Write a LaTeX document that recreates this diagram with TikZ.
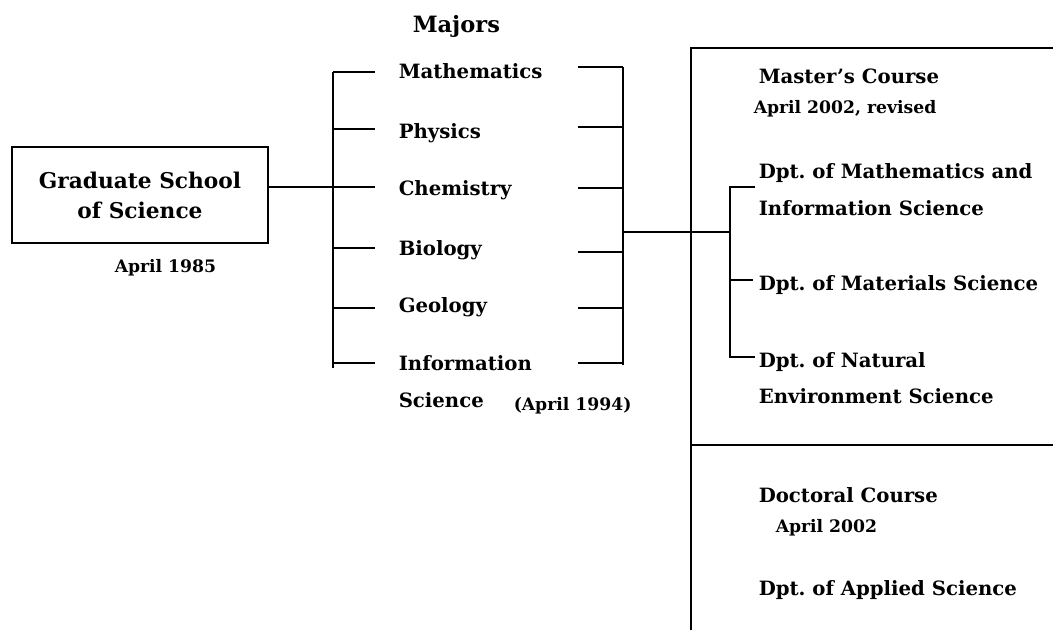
\documentclass[tikz,border=0pt]{standalone}
\usepackage{fontspec}
\setmainfont{DejaVu Serif}
\frenchspacing
\begin{document}
\begin{tikzpicture}[x=1pt,y=-1pt,line width=1.5pt,
  lbl/.style={anchor=base west,inner sep=0pt,font=\bfseries\fontsize{19.7}{23}\selectfont},
  small/.style={anchor=base west,inner sep=0pt,font=\bfseries\fontsize{17.2}{20}\selectfont},
  big/.style={font=\bfseries\fontsize{21.7}{30}\selectfont}]
\useasboundingbox (0,0) rectangle (1053,630);
% title
\node[anchor=base west,inner sep=0pt,font=\bfseries\fontsize{22.5}{26}\selectfont] (majors) at (412,32) {Majors};
% school box
\node[draw,big,align=center,minimum width=256pt,minimum height=96pt,inner sep=0pt] (gs) at (140,195) {Graduate School\\of Science};
\node[small] (d1985) at (114,272) {April 1985};
% majors
\node[lbl] (math) at (398,78) {Mathematics};
\node[lbl] (phys) at (398,138) {Physics};
\node[lbl] (chem) at (398,195) {Chemistry};
\node[lbl] (bio) at (398,255) {Biology};
\node[lbl] (geo) at (398,312) {Geology};
\node[lbl] (info) at (398,370) {Information};
\node[lbl] (infos) at (398,407) {Science};
\node[small] (d1994) at (513,410) {(April 1994)};
% left bracket
\coordinate (lt) at (333,72);
\coordinate (lb) at (333,368);
\coordinate (lj) at (333,187);
\draw (lt) -- (lb);
\draw (gs.east |- lj) -- (375,187);
\foreach \y in {72,129,248,308,363} \draw (333,\y) -- (375,\y);
% right bracket
\coordinate (rt) at (623,67);
\coordinate (rb) at (623,365);
\draw (rt) -- (rb);
\foreach \y in {67,127,188,252,308,363} \draw (578,\y) -- (623,\y);
\coordinate (rj) at (623,232);
\coordinate (sj) at (730,232);
\draw (rj) -- (sj);
% right frame
\coordinate (ft) at (691,48);
\coordinate (fb) at (691,630);
\draw (fb) -- (ft) -- (1053,48);
\coordinate (fm) at (691,445);
\draw (fm) -- (1053,445);
% sub bracket
\coordinate (st) at (730,187);
\coordinate (sb) at (730,357);
\draw (755,187) -- (st) -- (sb) -- (755,357);
\draw (730,280) -- (753,280);
% right texts
\node[lbl] (mc) at (758,83) {Master’s Course};
\node[small] (d2002r) at (753,113) {April 2002, revised};
\node[lbl] (dmi) at (758,178) {Dpt. of Mathematics and};
\node[lbl] (dmi2) at (758,215) {Information Science};
\node[lbl] (dms) at (758,290) {Dpt. of Materials Science};
\node[lbl] (dne) at (758,367) {Dpt. of Natural};
\node[lbl] (dne2) at (758,403) {Environment Science};
\node[lbl] (dc) at (758,502) {Doctoral Course};
\node[small] (d2002) at (775,532) {April 2002};
\node[lbl] (das) at (758,595) {Dpt. of Applied Science};
\end{tikzpicture}
\end{document}
